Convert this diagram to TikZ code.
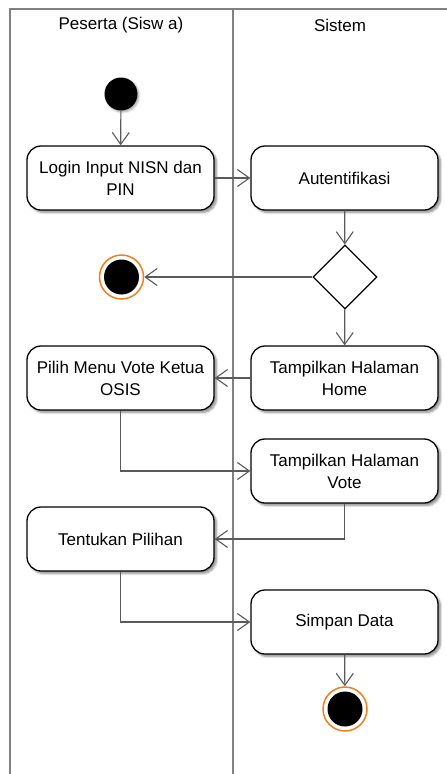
\documentclass[tikz,border=0pt]{standalone}
\usepackage{fontspec}
\setmainfont{Liberation Sans}
\usetikzlibrary{arrows.meta,shapes.geometric,shadows.blur}

\definecolor{lanegray}{RGB}{128,128,128}
\definecolor{flowgray}{RGB}{90,90,90}
\definecolor{endorange}{RGB}{240,128,30}

\tikzset{
  lane/.style={draw=lanegray, line width=1.5pt},
  action/.style={draw=black, line width=1.3pt, fill=white, rounded corners=14pt,
    minimum width=187pt, minimum height=64pt, inner sep=2pt, align=center,
    font=\fontsize{17}{22}\selectfont,
    blur shadow={shadow xshift=2.5pt, shadow yshift=-2.5pt, shadow blur steps=6, shadow opacity=45}},
  startnode/.style={circle, fill=black, minimum size=33pt, inner sep=0pt,
    blur shadow={shadow xshift=1.5pt, shadow yshift=-1.5pt, shadow blur steps=4, shadow opacity=35}},
  endnode/.style={circle, draw=endorange, line width=1.5pt, fill=white, minimum size=44pt, inner sep=0pt,
    path picture={\fill[black] (path picture bounding box.center) circle (17.5pt);}},
  decision/.style={diamond, draw=black, line width=1.3pt, fill=white, minimum size=64pt, inner sep=0pt},
  header/.style={font=\fontsize{17}{20}\selectfont},
  flow/.style={draw=flowgray, line width=1.2pt, -{Straight Barb[length=12pt,width=17pt,line width=1.1pt]}}
}

\begin{document}
\begin{tikzpicture}[x=1pt,y=-1pt]
  \useasboundingbox (0,0) rectangle (447,774);

  % swimlanes
  \coordinate (laneLB) at (10,774);
  \coordinate (laneLT) at (10,9);
  \coordinate (laneRT) at (447,9);
  \coordinate (divT) at (233,9);
  \coordinate (divB) at (233,774);
  \draw[lane] (laneLB) -- (laneLT) -- (laneRT);
  \draw[lane] (divT) -- (divB);
  \node[header] (hPeserta) at (121,25) {Peserta (Sisw a)};
  \node[header] (hSistem) at (340,25) {Sistem};

  % activities
  \node[startnode] (start) at (121,94) {};
  \node[action] (login) at (120.5,178) {Login Input NISN dan\\PIN};
  \node[action] (auth) at (344.5,178) {Autentifikasi};
  \node[decision] (dec) at (345,277) {};
  \node[endnode] (endA) at (121.5,277) {};
  \node[action] (home) at (344.5,378) {Tampilkan Halaman\\Home};
  \node[action] (pilih) at (120.5,378) {Pilih Menu Vote Ketua\\OSIS};
  \node[action] (vote) at (344.5,471) {Tampilkan Halaman\\Vote};
  \node[action] (tentukan) at (120.5,539) {Tentukan Pilihan};
  \node[action] (simpan) at (344.5,622) {Simpan Data};
  \node[endnode] (endB) at (345,709) {};

  % control flow
  \draw[flow] (start) -- (login);
  \draw[flow] (login) -- (auth);
  \draw[flow] (auth) -- (dec);
  \draw[flow] (dec) -- (endA);
  \draw[flow] (dec) -- (home);
  \draw[flow] (home) -- (pilih);
  \draw[flow] (pilih.south) |- (vote.west);
  \draw[flow] (vote.south) |- (tentukan.east);
  \draw[flow] (tentukan.south) |- (simpan.west);
  \draw[flow] (simpan) -- (endB);
\end{tikzpicture}
\end{document}
